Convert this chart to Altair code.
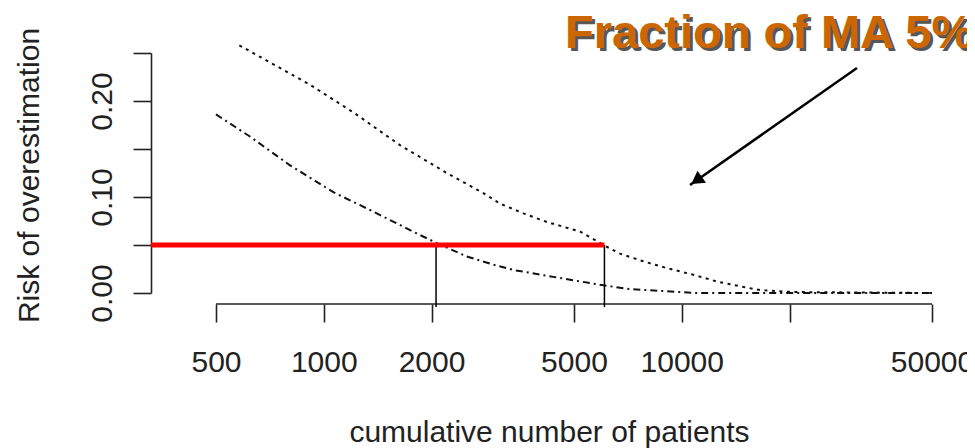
import altair as alt
import pandas as pd

# ---- data ----
N_UPPER = [581, 915, 1223, 1633, 2206, 2791, 3109, 3611, 4197, 5200, 6042, 6721,
           7808, 9074, 10770, 12516, 14543, 16540, 20474, 50000]
RISK_UPPER = [0.258, 0.217, 0.187, 0.154, 0.125, 0.104, 0.093, 0.083, 0.074, 0.064,
              0.050, 0.041, 0.033, 0.026, 0.019, 0.012, 0.007, 0.003, 0.001, 0.0]

N_LOWER = [500, 622, 805, 1064, 1406, 1819, 2069, 2508, 3010, 3385, 4671, 6042,
           7174, 8892, 11016, 50000]
RISK_LOWER = [0.186, 0.163, 0.133, 0.105, 0.083, 0.062, 0.052, 0.038, 0.029, 0.024,
              0.015, 0.008, 0.004, 0.002, 0.0, 0.0]

X_TICKS = [500, 1000, 2000, 5000, 10000, 20000, 50000]
Y_TICKS = [0, 0.05, 0.10, 0.15, 0.20, 0.25]
THRESHOLD = 0.05
N_CROSS = [2059, 6081]
X_MIN, X_MAX = 329.2, 50000
Y_MIN, Y_MAX = 0.0, 0.25
AXIS_LINE_R = -0.0115      # detached x axis line, just below 0
CROSS_BOTTOM_R = -0.0146
ARROW_N = [30860, 10545]
ARROW_R = [0.2344, 0.1125]
ARROW_HEAD = (10995, 0.1173)
TITLE = "Fraction of MA 5%"
X_TITLE = "cumulative number of patients"
Y_TITLE = "Risk of overestimation"

FONT = "Liberation Sans"
W, H = 781, 240

xs = alt.Scale(type="log", domain=[X_MIN, X_MAX], nice=False)
ys = alt.Scale(domain=[Y_MIN, Y_MAX], nice=False, zero=False)

x_axis = alt.Axis(
    values=X_TICKS, format="d",
    labelExpr="datum.value == 20000 ? '' : datum.label",
    offset=11, domain=False, grid=False,
    tickSize=18, tickWidth=1.6, tickColor="#222",
    labelFont=FONT, labelFontSize=30, labelColor="#222",
    labelPadding=49, labelBaseline="alphabetic", labelFlush=False, labelOverlap=False,
    title=X_TITLE, titleFont=FONT, titleFontSize=30, titleFontWeight="normal",
    titleColor="#222", titleX=398, titleY=137, titleAlign="center",
    titleBaseline="alphabetic",
)
y_axis = alt.Axis(
    values=Y_TICKS, format=".2f",
    labelExpr="indexof(['0.00','0.10','0.20'], datum.label) >= 0 ? datum.label : ''",
    domain=True, domainColor="#222", domainWidth=1.6, grid=False,
    tickSize=18, tickWidth=1.6, tickColor="#222",
    labelFont=FONT, labelFontSize=30, labelColor="#222",
    labelAngle=270, labelAlign="center", labelBaseline="alphabetic",
    labelPadding=22, labelOverlap=False, labelFlush=False,
    title=Y_TITLE, titleFont=FONT, titleFontSize=30, titleFontWeight="normal",
    titleColor="#222", titleAngle=270, titleX=-113, titleY=122,
    titleAlign="center", titleBaseline="alphabetic",
)


def X(f="n"):
    return alt.X(f"{f}:Q", scale=xs, axis=x_axis)


def Y(f="r"):
    return alt.Y(f"{f}:Q", scale=ys, axis=y_axis)


df_u = pd.DataFrame({"n": N_UPPER, "r": RISK_UPPER})
df_l = pd.DataFrame({"n": N_LOWER, "r": RISK_LOWER})

upper = alt.Chart(df_u).mark_line(strokeDash=[3, 4.5], color="#111", strokeWidth=2).encode(
    x=X(), y=Y())
lower = alt.Chart(df_l).mark_line(strokeDash=[7, 4, 2, 4], color="#111", strokeWidth=2).encode(
    x=X(), y=Y())

axis_line = alt.Chart(pd.DataFrame({"n": [X_TICKS[0]], "n2": [X_TICKS[-1]], "r": [AXIS_LINE_R]})).mark_rule(
    color="#222", strokeWidth=1.6).encode(x=X(), x2="n2:Q", y=Y())

cross = alt.Chart(pd.DataFrame({"n": N_CROSS, "r": [THRESHOLD] * 2, "r2": [CROSS_BOTTOM_R] * 2})).mark_rule(
    color="black", strokeWidth=1.5).encode(x=X(), y=Y(), y2="r2:Q")

red = alt.Chart(pd.DataFrame({"n": [X_MIN], "n2": [N_CROSS[1]], "r": [THRESHOLD]})).mark_rule(
    color="#ff0000", strokeWidth=5).encode(x=X(), x2="n2:Q", y=Y())

arrow = alt.Chart(pd.DataFrame({"n": [ARROW_N[0]], "n2": [ARROW_N[1]], "r": [ARROW_R[0]], "r2": [ARROW_R[1]]})).mark_rule(
    color="black", strokeWidth=2.5).encode(x=X(), x2="n2:Q", y=Y(), y2="r2:Q")

head = alt.Chart(pd.DataFrame({"n": [ARROW_HEAD[0]], "r": [ARROW_HEAD[1]]})).mark_point(
    shape="triangle-up", angle=235, filled=True, size=220, color="black", opacity=1).encode(x=X(), y=Y())

df_t = pd.DataFrame({"t": [TITLE]})
shadow = alt.Chart(df_t).mark_text(
    font=FONT, fontSize=47, fontWeight="bold", color="#3a3a3a", align="left", baseline="alphabetic",
    opacity=0.85
).encode(x=alt.value(417), y=alt.value(-2), text="t:N")
title = alt.Chart(df_t).mark_text(
    font=FONT, fontSize=47, fontWeight="bold", color="#cc6600", align="left", baseline="alphabetic"
).encode(x=alt.value(414), y=alt.value(-5), text="t:N")

chart = alt.layer(upper, lower, axis_line, cross, red, arrow, head, shadow, title).properties(
    width=W, height=H,
    autosize=alt.AutoSizeParams(type="none"),
    padding={"left": 143, "top": 45, "right": 35, "bottom": 155},
).configure_view(stroke=None)

chart.save("out.html", embed_options={"renderer": "svg", "actions": False})
